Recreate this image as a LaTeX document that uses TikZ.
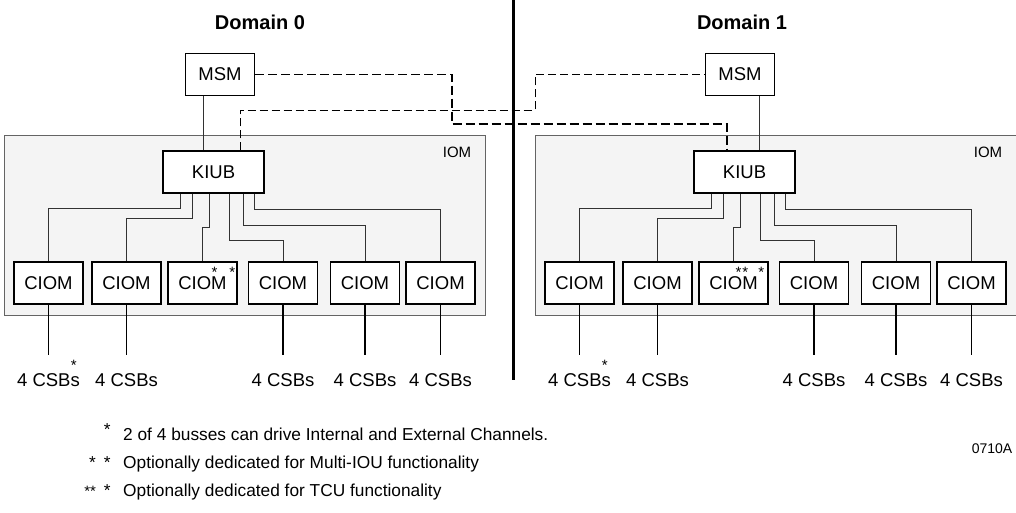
\documentclass[tikz,border=0pt]{standalone}
\usepackage{fontspec}
\setmainfont{Liberation Sans}
\usepackage{tikz}
\usetikzlibrary{calc, positioning}
\definecolor{ioGray}{RGB}{244,244,244}
\definecolor{ioEdge}{RGB}{100,100,100}
\definecolor{ioWire}{RGB}{50,50,50}
\newcommand{\sstar}{{\fontsize{15}{15}\selectfont *}}
\newcommand{\starat}[3]{\rlap{\smash{\hspace{#1}\raisebox{#2}{#3}}}}
\newcommand{\notemark}[1]{\llap{\smash{#1}\hspace{12.5pt}}}

\begin{document}
\begin{tikzpicture}[
    x=1pt, y=-1pt,
    font=\fontsize{18.5}{22}\selectfont,
    box/.style={draw, line width=1.4pt, fill=white, inner sep=0pt,
                minimum height=42pt},
    msm/.style={box, minimum width=69pt},
    kiub/.style={box, minimum width=101pt},
    ciom/.style={box, minimum width=69pt},
    iom/.style={draw=ioEdge, fill=ioGray, line width=0.8pt, inner sep=0pt,
                minimum width=481pt, minimum height=180pt},
    wire/.style={draw=ioWire, line width=0.8pt},
    csbline/.style={draw=black, line width=1.1pt, shorten >=18pt},
    busthick/.style={draw=black, line width=1.6pt, dash pattern=on 9pt off 4pt},
    busthin/.style={draw=black, line width=0.9pt, dash pattern=on 8pt off 4pt},
    csb/.style={inner sep=0pt},
    head/.style={font=\bfseries\fontsize{20}{24}\selectfont},
    tag/.style={font=\fontsize{15}{18}\selectfont, inner sep=0pt},
    note/.style={anchor=west, inner sep=0pt, font=\fontsize{17.3}{21}\selectfont}
]
\useasboundingbox (0,0) rectangle (1016,512);

\node[head] (dom0) at (260,22.5) {Domain 0};
\node[head] (dom1) at (742,22.5) {Domain 1};

\node[iom] (iomA) at (244.5,225) {};
\node[iom] (iomB) at (775.5,225) {};
\node[tag] (iomlblA) at (457,152.5) {IOM};
\node[tag] (iomlblB) at (988,152.5) {IOM};

% dashed busses between the domains
\coordinate (bendA) at (452,124);
\coordinate (bendB) at (535,110);
\coordinate (divtop) at (513,0);
\coordinate (divbot) at (513,380);

\node[msm]  (msmA)  at (220,74.5)  {MSM};
\node[msm]  (msmB)  at (740,74.5)  {MSM};
\node[kiub] (kiubA) at (213.5,172) {KIUB};
\node[kiub] (kiubB) at (744.5,172) {KIUB};

\draw[busthick] (msmA.east) -| (bendA) -| ([xshift=-17.5pt]kiubB.north);
\draw[busthin] ([xshift=26.5pt]kiubA.north) |- (bendB) |- (msmB.west);
\draw[line width=3pt] (divtop) -- (divbot);

\foreach \i/\cx in {1/48.5, 2/126.5, 4/283, 5/365, 6/440.5} {
  \node[ciom] (ciomA\i) at (\cx,283)     {CIOM};
  \node[ciom] (ciomB\i) at (\cx+531,283) {CIOM};
}
\node[ciom] (ciomA3) at (202.5,283)
  {CIOM\starat{-15pt}{12pt}{\sstar\hspace{12pt}\sstar}};
\node[ciom] (ciomB3) at (733.5,283)
  {CIOM\starat{-22pt}{12pt}{\sstar\hspace{1pt}\sstar\hspace{10pt}\sstar}};

\draw[wire] ([xshift=-17pt]msmA.south) -- ([xshift=-17pt]msmA.south |- kiubA.north);
\draw[wire] ([xshift=19pt]msmB.south) -- ([xshift=19pt]msmB.south |- kiubB.north);

% KIUB fan-out to the CIOMs
\foreach \i/\kx/\ly in {1/18/208, 2/30/218, 3/47/227, 4/67/240, 5/81/225, 6/92/209} {
  \draw[wire] ([xshift=\kx pt]kiubA.south west) -- ++(0,\ly-193) -| (ciomA\i.north);
  \draw[wire] ([xshift=\kx pt]kiubB.south west) -- ++(0,\ly-193) -| (ciomB\i.north);
}

\foreach \i/\txt in {1/{4 CSBs\starat{-9pt}{16pt}{\sstar}}, 2/{4 CSBs},
                     4/{4 CSBs}, 5/{4 CSBs}, 6/{4 CSBs}} {
  \node[csb] (csbA\i) at ([yshift=-75pt]ciomA\i.south) {\txt};
  \node[csb] (csbB\i) at ([yshift=-75pt]ciomB\i.south) {\txt};
  \draw[csbline] (ciomA\i) -- (csbA\i);
  \draw[csbline] (ciomB\i) -- (csbB\i);
}

\node[note] (note1) at (123,434)
  {\notemark{\raisebox{5pt}{*}}2 of 4 busses can drive Internal and External Channels.};
\node[note] (note2) at (123,464)
  {\notemark{*\hspace{8pt}*}Optionally dedicated for Multi-IOU functionality};
\node[note] (note3) at (123,492)
  {\notemark{\sstar\sstar\hspace{8pt}*}Optionally dedicated for TCU functionality};
\node[tag, font=\fontsize{14}{16}\selectfont] (figid) at (992,449) {0710A};
\end{tikzpicture}
\end{document}
